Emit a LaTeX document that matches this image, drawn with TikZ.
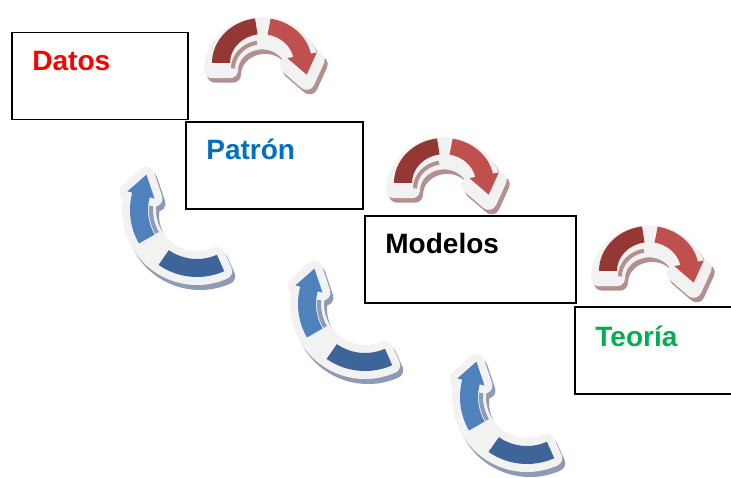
\documentclass[tikz,border=0pt]{standalone}
\usepackage{fontspec}
\setmainfont{Liberation Sans}
\usepackage{tikz}
\usetikzlibrary{calc}
\definecolor{rimgrey}{HTML}{F2F2F2}
\definecolor{reddark}{HTML}{953735}
\definecolor{redlight}{HTML}{C0504D}
\definecolor{redhatch}{HTML}{B39090}
\definecolor{bluedark}{HTML}{3D6599}
\definecolor{bluelight}{HTML}{4F81BD}
\definecolor{bluehatch}{HTML}{8E9BB5}
\definecolor{patronblue}{HTML}{0070C0}
\definecolor{teoriagreen}{HTML}{00B050}
\tikzstyle{stage}=[draw, line width=1.6pt, inner sep=0pt, minimum height=87pt]
\tikzstyle{stagetext}=[anchor=base west, inner sep=0pt, font=\bfseries\fontsize{28}{34}\selectfont]
\tikzstyle{arrowrim}=[line width=16pt, line join=round]
% band of an arc, radius #1, half width #2, from #3 to #4
\newcommand{\bandpath}[4]{(#3:{#1+#2}) arc[start angle=#3, end angle=#4, radius={#1+#2}] -- (#4:{#1-#2}) arc[start angle=#4, end angle=#3, radius={#1-#2}] -- cycle}
% same band with a head (half width #5, length #6) at #4
\newcommand{\headpath}[6]{(#3:{#1+#2}) arc[start angle=#3, end angle=#4, radius={#1+#2}] -- (#4:{#1+#5}) -- ($(#4:#1)+({#4-90}:#6)$) -- (#4:{#1-#5}) -- (#4:{#1-#2}) arc[start angle=#4, end angle=#3, radius={#1-#2}] -- cycle}
\newcommand{\redarrow}[2]{%
  \begin{scope}[shift={(#1,#2)}, yscale=0.9]
    \filldraw[redhatch, arrowrim, shift={(3,-13)}] \headpath{41}{9}{180}{12}{15}{22};
    \filldraw[rimgrey, arrowrim, yshift=-8] \headpath{41}{9}{180}{12}{15}{22};
    \draw[redhatch, line width=4pt, yshift=-6] (100:29) arc[start angle=100, end angle=180, radius=29];
    \fill[reddark] \bandpath{41}{9}{180}{98};
    \fill[redlight] \headpath{41}{9}{80}{12}{15}{22};
  \end{scope}}
\newcommand{\bluearrow}[2]{%
  \begin{scope}[shift={(#1,#2)}]
    \filldraw[bluehatch, arrowrim, shift={(3,-5)}] \headpath{58}{9}{-66}{-195}{14}{21};
    \filldraw[rimgrey, arrowrim] \headpath{58}{9}{-66}{-195}{14}{21};
    \draw[bluehatch, line width=4pt] (-150:46) arc[start angle=-150, end angle=-185, radius=46];
    \fill[bluedark] \bandpath{58}{9}{-66}{-125};
    \fill[bluelight] \headpath{58}{9}{-150}{-195}{14}{21};
  \end{scope}}

\begin{document}
\begin{tikzpicture}[x=1pt, y=1pt]
    \useasboundingbox (0,0) rectangle (731,477);
    % curved arrows
    \redarrow{262}{414}
    \redarrow{444}{294}
    \redarrow{649}{206}
    \bluearrow{197}{267}
    \bluearrow{365}{173}
    \bluearrow{527}{80}
    % stages
    \node[stage, minimum width=176pt] (datos) at (100, 401) {};
    \node[stage, minimum width=177pt] (patron) at (274.5, 311.5) {};
    \node[stage, minimum width=211pt] (modelos) at (470.5, 217.5) {};
    \node[stage, minimum width=180pt] (teoria) at (665, 126.5) {};
    \node[stagetext, red] (datostext) at ([shift={(21,-39)}]datos.north west) {Datos};
    \node[stagetext, patronblue] (patrontext) at ([shift={(21,-38)}]patron.north west) {Patrón};
    \node[stagetext, black] (modelostext) at ([shift={(21,-38)}]modelos.north west) {Modelos};
    \node[stagetext, teoriagreen] (teoriatext) at ([shift={(21,-40)}]teoria.north west) {Teoría};
\end{tikzpicture}
\end{document}
